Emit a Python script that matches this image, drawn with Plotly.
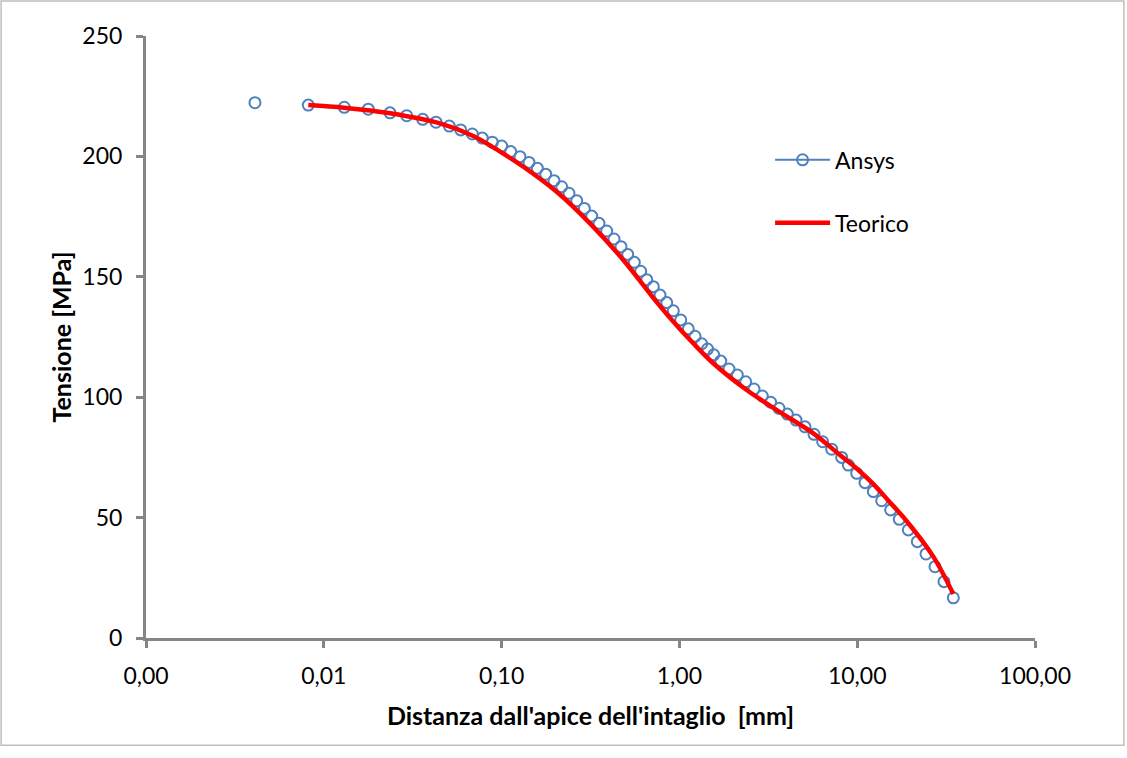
import plotly.graph_objects as go

# Ansys (FEM) results: distance from notch tip [mm] and stress [MPa]
ansys_x = [0.00410, 0.00818, 0.01304, 0.01779, 0.02357, 0.02926, 0.0360, 0.04276,
           0.05079, 0.05888, 0.06842, 0.07788, 0.08865, 0.1001, 0.1125, 0.1269,
           0.1426, 0.1588, 0.1770, 0.1971, 0.2178, 0.2393, 0.2645, 0.2919,
           0.3211, 0.3530, 0.3900, 0.4287, 0.4693, 0.5120, 0.5576, 0.6057,
           0.6549, 0.7134, 0.7781, 0.8486, 0.9241, 1.017, 1.122, 1.224,
           1.335, 1.44, 1.56, 1.708, 1.901, 2.117, 2.360, 2.628, 2.926,
           3.262, 3.633, 4.045, 4.528, 5.087, 5.715, 6.395, 7.188, 8.18,
           8.913, 9.936, 11.06, 12.32, 13.73, 15.43, 17.25, 19.38, 21.78,
           24.38, 27.39, 30.77, 34.72]
ansys_y = [222.3, 221.3, 220.4, 219.6, 218.1, 216.9, 215.4, 214.2,
           212.6, 211.0, 209.3, 207.6, 205.9, 204.3, 202.0, 199.9,
           197.5, 195.1, 192.6, 189.9, 187.4, 184.7, 181.6, 178.4,
           175.2, 172.2, 169.0, 165.7, 162.5, 159.3, 156.0, 152.3,
           148.8, 145.9, 142.4, 139.3, 135.9, 132.1, 128.4, 125.3,
           122.2, 120.0, 117.6, 115.0, 111.7, 109.2, 106.4, 103.4, 100.5,
           97.9, 95.4, 93.0, 90.5, 87.7, 84.6, 81.5, 78.4, 75.0,
           71.8, 68.4, 64.5, 60.8, 57.0, 53.2, 49.3, 44.9, 40.0,
           34.9, 29.6, 23.4, 16.7]

# Theoretical curve
teo_x = [0.00818, 0.0130, 0.0236, 0.045, 0.0693, 0.098, 0.1325, 0.204, 0.314,
         0.4836, 0.745, 1.0, 1.2, 1.55, 2.39, 3.68, 5.665, 8.0, 10.0, 12.3,
         15.0, 19.0, 26.8, 34.72]
teo_y = [221.3, 220.2, 217.9, 213.7, 208.5, 202.0, 195.7, 185.3, 172.2,
         157.0, 139.5, 128.5, 122.3, 114.1, 103.0, 93.8, 85.0, 76.0, 70.2, 64.0,
         57.0, 48.5, 33.8, 18.3]

x_tickvals = [0.001, 0.01, 0.1, 1, 10, 100]
x_ticktext = ["0,00", "0,01", "0,10", "1,00", "10,00", "100,00"]
y_tickvals = [0, 50, 100, 150, 200, 250]

BLUE = "#4F81BD"
RED = "#FF0000"
AXIS = "#868686"
FONT = "Lato, 'Open Sans', sans-serif"

fig = go.Figure()

# Ansys markers (no connecting line in plot)
fig.add_trace(go.Scatter(
    x=ansys_x, y=ansys_y, mode="markers", name="Ansys", showlegend=False,
    marker=dict(symbol="circle-open", size=11, color=BLUE, line=dict(width=2, color=BLUE)),
    legendgroup="a"))
# Legend entry for Ansys (line + marker)
fig.add_trace(go.Scatter(
    x=[None], y=[None], mode="lines+markers", name="Ansys",
    line=dict(color=BLUE, width=2),
    marker=dict(symbol="circle-open", size=11, color=BLUE, line=dict(width=2, color=BLUE)),
    legendgroup="a"))
fig.add_trace(go.Scatter(
    x=teo_x, y=teo_y, mode="lines", name="Teorico",
    line=dict(color=RED, width=4.5, shape="spline", smoothing=0.9),
    legendgroup="b"))

fig.update_layout(
    width=1127, height=758,
    margin=dict(l=146, r=92, t=36, b=120),
    paper_bgcolor="white", plot_bgcolor="white",
    font=dict(family=FONT, size=23, color="#000000"),
    showlegend=True,
    legend=dict(x=0.702, y=0.83, xanchor="left", yanchor="top",
                bgcolor="rgba(0,0,0,0)", font=dict(size=23),
                itemwidth=55, tracegroupgap=30, traceorder="grouped"),
    shapes=[dict(type="rect", xref="paper", yref="paper",
                 x0=-0.163, x1=1.100, y0=-0.178, y1=1.058,
                 line=dict(color="#BFBFBF", width=1.5), fillcolor="rgba(0,0,0,0)",
                 layer="below")],
)

fig.update_xaxes(
    type="log", range=[-3, 2],
    tickvals=x_tickvals, ticktext=x_ticktext,
    showgrid=False, zeroline=False,
    showline=True, linecolor=AXIS, linewidth=3,
    ticks="outside", ticklen=7, tickwidth=3, tickcolor=AXIS,
    tickfont=dict(size=23), ticklabelstandoff=8,
    title=dict(text="<b>Distanza dall'apice dell'intaglio  [mm]</b>",
               font=dict(size=25), standoff=20),
)
fig.update_yaxes(
    range=[0, 250], tickvals=y_tickvals,
    showgrid=False, zeroline=False,
    showline=True, linecolor=AXIS, linewidth=3,
    ticks="outside", ticklen=7, tickwidth=3, tickcolor=AXIS,
    tickfont=dict(size=23), ticklabelstandoff=9,
    title=dict(text="<b>Tensione [MPa]</b>", font=dict(size=25), standoff=4),
)

fig.write_html("out.html")
